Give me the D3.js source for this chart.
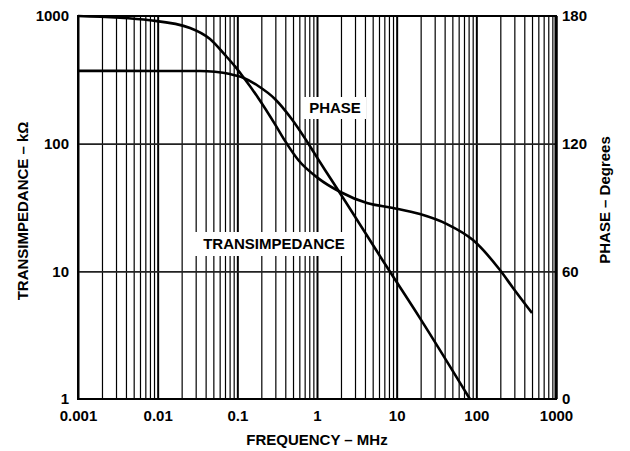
<!DOCTYPE html>
<html>
<head>
<meta charset="utf-8">
<script src="https://cdn.jsdelivr.net/npm/d3@7"></script>
<style>
body { margin: 0; background: #fff; }
text { font-family: "Liberation Sans", Arial, Helvetica, sans-serif; font-weight: bold; font-size: 15px; fill: #000; }
</style>
</head>
<body>
<div id="chart"></div>
<script>
// tick labels
var freqTicks = [0.001, 0.01, 0.1, 1, 10, 100, 1000];
var zTicks = [1, 10, 100, 1000];
var phaseTicks = [0, 60, 120, 180];

// transimpedance (kOhm) vs frequency (MHz)
var zFreq = [0.001, 0.01, 0.034, 0.0524, 0.0809, 0.1185, 0.183, 0.2965, 0.481, 0.706, 0.898, 1.26, 1.94, 7.55, 19.6, 83];
var zVals = [372, 371, 370.9, 365.6, 351, 328.6, 283, 224, 156, 110, 86.8, 62.2, 41.1, 10.8, 4.3, 1.0];

// phase (degrees) vs frequency (MHz)
var phFreq = [0.001, 0.008, 0.0255, 0.0454, 0.07, 0.0935, 0.1185, 0.183, 0.2965, 0.397, 0.582, 1.04, 1.94, 4.24, 9, 19.6, 42.8, 90.8, 198, 289, 500];
var phVals = [180, 178, 174.4, 169.2, 161.7, 156.3, 151.3, 141.5, 129.2, 121.3, 112.3, 103.7, 97.4, 92.1, 89.8, 86.9, 82.2, 74.7, 60.6, 52.2, 40.4];

var width = 630,
    height = 451;
var pl = 78, pr = 556, pt = 16, pb = 399;

var svg = d3.select("#chart").append("svg")
    .attr("width", width)
    .attr("height", height);

var x = d3.scaleLog().domain([0.001, 1000]).range([pl, pr]);
var yZ = d3.scaleLog().domain([1, 1000]).range([pb, pt]);
var yP = d3.scaleLinear().domain([0, 180]).range([pb, pt]);

// vertical grid
var vgrid = svg.append("g")
    .attr("transform", "translate(0," + pb + ")")
    .call(d3.axisBottom(x).tickValues(x.ticks()).tickSize(-(pb - pt)).tickFormat(""));
vgrid.select(".domain").remove();
vgrid.selectAll("line")
    .attr("stroke", "#000")
    .attr("stroke-width", function (d) {
        var l = Math.log10(d);
        return Math.abs(l - Math.round(l)) < 1e-6 ? 2 : 1.2;
    });

// horizontal grid
var hgrid = svg.append("g")
    .attr("transform", "translate(" + pl + ",0)")
    .call(d3.axisLeft(yZ).tickValues([10, 100]).tickSize(-(pr - pl)).tickFormat(""));
hgrid.select(".domain").remove();
hgrid.selectAll("line").attr("stroke", "#222").attr("stroke-width", 1.6);

// frame
svg.append("rect")
    .attr("x", pl).attr("y", pt)
    .attr("width", pr - pl).attr("height", pb - pt)
    .attr("fill", "none").attr("stroke", "#000").attr("stroke-width", 2);
svg.append("line")
    .attr("x1", pr).attr("x2", pr).attr("y1", pt).attr("y2", pb)
    .attr("stroke", "#000").attr("stroke-width", 3);

// curves
var zData = zFreq.map(function (f, i) { return { f: f, v: zVals[i] }; });
var phData = phFreq.map(function (f, i) { return { f: f, v: phVals[i] }; });

var zLine = d3.line()
    .x(function (d) { return x(d.f); })
    .y(function (d) { return yZ(d.v); })
    .curve(d3.curveMonotoneX);
var phLine = d3.line()
    .x(function (d) { return x(d.f); })
    .y(function (d) { return yP(d.v); })
    .curve(d3.curveMonotoneX);

svg.append("path").datum(zData)
    .attr("d", zLine)
    .attr("fill", "none").attr("stroke", "#000").attr("stroke-width", 2.6);
svg.append("path").datum(phData)
    .attr("d", phLine)
    .attr("fill", "none").attr("stroke", "#000").attr("stroke-width", 2.6);

// curve labels on white boxes
function tag(txt, cx, cy, w, h) {
    svg.append("rect")
        .attr("x", cx - w / 2).attr("y", cy - h / 2)
        .attr("width", w).attr("height", h)
        .attr("fill", "#fff");
    svg.append("text")
        .attr("x", cx).attr("y", cy)
        .attr("dy", "0.36em")
        .attr("text-anchor", "middle")
        .text(txt);
}
tag("PHASE", 335, 108, 62, 22);
tag("TRANSIMPEDANCE", 274, 244, 160, 24);

// axes labels
var xAxis = svg.append("g")
    .attr("transform", "translate(0," + pb + ")")
    .call(d3.axisBottom(x).tickValues(freqTicks).tickSize(0).tickPadding(11)
        .tickFormat(function (d) { return String(d); }));
xAxis.select(".domain").remove();

var yAxis = svg.append("g")
    .attr("transform", "translate(" + pl + ",0)")
    .call(d3.axisLeft(yZ).tickValues(zTicks).tickSize(0).tickPadding(9)
        .tickFormat(function (d) { return String(d); }));
yAxis.select(".domain").remove();

var pAxis = svg.append("g")
    .attr("transform", "translate(" + pr + ",0)")
    .call(d3.axisRight(yP).tickValues(phaseTicks).tickSize(0).tickPadding(6));
pAxis.select(".domain").remove();

svg.selectAll("g").attr("font-family", null).attr("font-size", null);

// titles
svg.append("text")
    .attr("x", 317).attr("y", 445)
    .attr("text-anchor", "middle")
    .text("FREQUENCY \u2013 MHz");

svg.append("text")
    .attr("transform", "translate(28,211) rotate(-90)")
    .attr("text-anchor", "middle")
    .text("TRANSIMPEDANCE  \u2013 k\u03a9");

svg.append("text")
    .attr("transform", "translate(610,200) rotate(-90)")
    .attr("text-anchor", "middle")
    .text("PHASE \u2013 Degrees");
</script>
</body>
</html>
